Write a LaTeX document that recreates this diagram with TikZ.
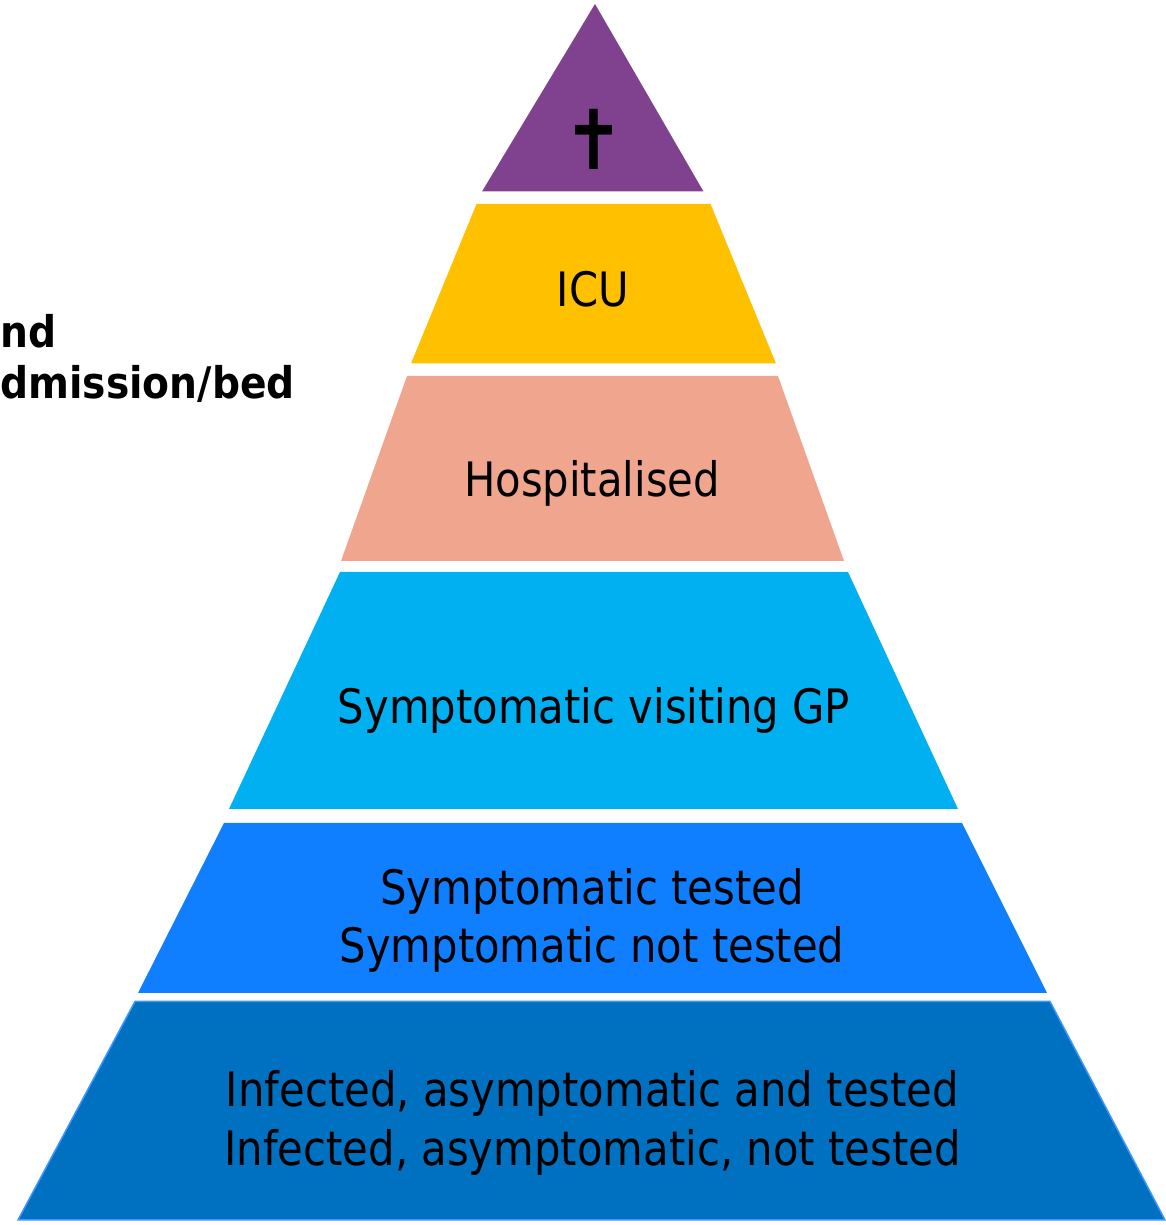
\documentclass[tikz,border=0pt]{standalone}
\usepackage{fontspec}
\newfontfamily\tierfont{DejaVu Sans}[FakeStretch=0.88]
\newfontfamily\sidefont{DejaVu Sans}[FakeStretch=0.9]
\definecolor{tpurple}{RGB}{128,65,142}
\definecolor{tyellow}{RGB}{255,192,0}
\definecolor{tsalmon}{RGB}{240,165,142}
\definecolor{tcyan}{RGB}{0,176,240}
\definecolor{tblue}{RGB}{15,127,255}
\definecolor{tnavy}{RGB}{0,112,192}
\definecolor{tedge}{RGB}{60,150,255}
\usetikzlibrary{positioning}

\begin{document}
\begin{tikzpicture}[
  tierlabel/.style={font=\tierfont\fontsize{27}{33.4}\selectfont, align=center, inner sep=0pt},
  sidelabel/.style={font=\sidefont\bfseries\fontsize{24.8}{29.3}\selectfont, align=left, inner sep=0pt}]
  \useasboundingbox (0,0) rectangle (23.32,24.5);

  % Top - deaths
  \fill[tpurple] (11.9,24.42) -- (14.07,20.67) -- (9.64,20.67) -- cycle;
  \node[font=\tierfont\fontsize{47}{50}\selectfont, inner sep=0pt] (death) at (11.88,21.71) {✝};

  % ICU
  \fill[tyellow] (9.53,20.42) -- (14.21,20.42) -- (15.52,17.23) -- (8.22,17.23) -- cycle;
  \node[tierlabel, anchor=base] (icu) at (11.86,18.366) {ICU};

  % Hospitalised
  \fill[tsalmon] (8.14,16.98) -- (15.56,16.98) -- (16.88,13.28) -- (6.82,13.28) -- cycle;
  \node[tierlabel, anchor=base] (hosp) at (11.84,14.566) {Hospitalised};

  % Symptomatic visiting GP
  \fill[tcyan] (6.8,13.06) -- (16.96,13.06) -- (19.16,8.32) -- (4.58,8.32) -- cycle;
  \node[tierlabel, anchor=base] (gp) at (11.88,10.034) {Symptomatic visiting GP};

  % Symptomatic, tested or not
  \fill[tblue] (4.48,8.04) -- (19.24,8.04) -- (20.94,4.64) -- (2.76,4.64) -- cycle;
  \node[tierlabel] (sympt) at (11.84,6.094) {Symptomatic tested\\Symptomatic not tested};

  % Infected, asymptomatic
  \filldraw[fill=tnavy, draw=tedge, line width=0.03cm] (2.7,4.47) -- (21.0,4.47) -- (23.3,0.1) -- (0.36,0.1) -- cycle;
  \node[tierlabel] (asympt) at (11.85,2.044) {Infected, asymptomatic and tested\\Infected, asymptomatic, not tested};

  % Side text
  \node[sidelabel, anchor=north west] (side) at (0,18.226) {nd\\dmission/bed};
\end{tikzpicture}
\end{document}
